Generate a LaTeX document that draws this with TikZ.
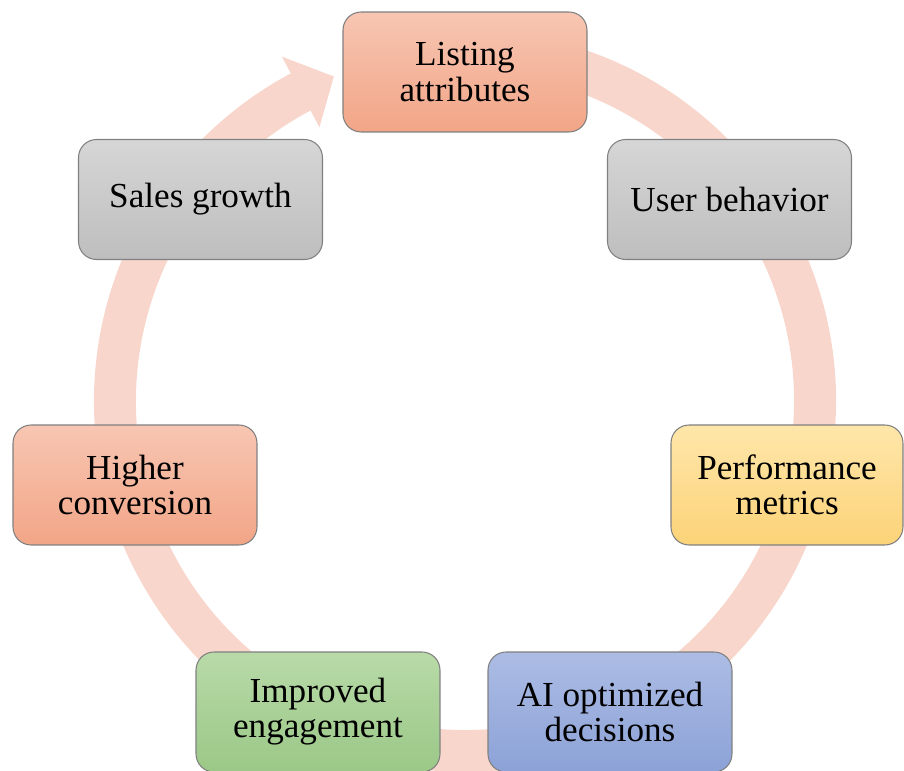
\documentclass[tikz,border=0pt]{standalone}
\usepackage{fontspec}
\setmainfont{Liberation Serif}
\usepackage{tikz}

\definecolor{ringpink}{RGB}{248,214,204}
\definecolor{salmontop}{RGB}{247,198,178}
\definecolor{salmonbot}{RGB}{242,165,135}
\definecolor{graytop}{RGB}{214,214,214}
\definecolor{graybot}{RGB}{190,190,190}
\definecolor{yellowtop}{RGB}{254,230,170}
\definecolor{yellowbot}{RGB}{252,211,120}
\definecolor{bluetop}{RGB}{172,188,228}
\definecolor{bluebot}{RGB}{140,162,215}
\definecolor{greentop}{RGB}{184,218,168}
\definecolor{greenbot}{RGB}{155,200,135}

\begin{document}
\begin{tikzpicture}[x=0.02cm,y=0.02cm,
    stage/.style={draw=black!50, line width=0.6pt, rounded corners=0.36cm,
        minimum width=4.88cm, minimum height=2.4cm, align=center,
        font=\fontsize{20}{20}\selectfont},
    salmon/.style={stage, top color=salmontop, bottom color=salmonbot},
    grey/.style={stage, top color=graytop, bottom color=graybot},
    yellow/.style={stage, top color=yellowtop, bottom color=yellowbot},
    blue/.style={stage, top color=bluetop, bottom color=bluebot},
    green/.style={stage, top color=greentop, bottom color=greenbot}]
    \useasboundingbox (0,0) rectangle (904,771);
    % ring arrow, running clockwise back into the top box
    \fill[ringpink, shift={(465,370)}] (80:371) arc[start angle=80, end angle=-242, radius=371]
        -- (-242:390) -- (-248:350) -- (-242:310) -- (-242:329)
        arc[start angle=-242, end angle=80, radius=329] -- cycle;
    \node[salmon] (listing) at (465,699) {Listing\\attributes};
    \node[grey] (user) at (729.5,571.5) {User behavior};
    \node[yellow, minimum width=4.64cm] (perf) at (787,286) {Performance\\metrics};
    \node[blue] (ai) at (610,59) {AI optimized\\decisions};
    \node[green] (engage) at (318,59) {Improved\\engagement};
    \node[salmon] (conv) at (135,286) {Higher\\conversion};
    \node[grey] (sales) at (200.5,571.5) {Sales growth};
\end{tikzpicture}
\end{document}
